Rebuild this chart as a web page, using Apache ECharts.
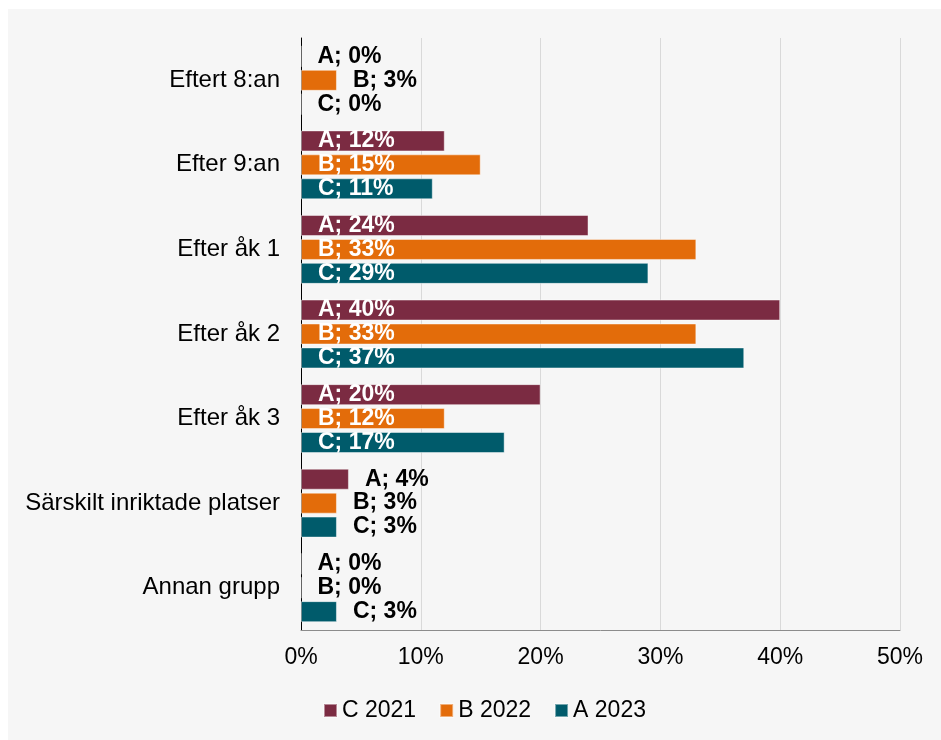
<!DOCTYPE html>
<html>
<head>
<meta charset="utf-8">
<script src="https://cdn.jsdelivr.net/npm/echarts@6/dist/echarts.min.js"></script>
<style>
  html, body { margin: 0; padding: 0; background: #ffffff; }
  #bg { position: absolute; left: 8px; top: 9px; width: 933px; height: 731px; background: #f6f6f6; }
  #chart { position: absolute; left: 0; top: 0; width: 941px; height: 740px; }
</style>
</head>
<body>
<div id="bg"></div>
<div id="chart"></div>
<script>
// ---- data ----
const categories = ['Eftert 8:an', 'Efter 9:an', 'Efter åk 1', 'Efter åk 2', 'Efter åk 3', 'Särskilt inriktade platser', 'Annan grupp'];
const legendNames = ['C 2021', 'B 2022', 'A 2023'];
const labelPrefixes = ['A', 'B', 'C'];
const valuesC2021 = [0, 12, 24, 40, 20, 4, 0];
const valuesB2022 = [3, 15, 33, 33, 12, 3, 0];
const valuesA2023 = [0, 11, 29, 37, 17, 3, 3];
const xTicks = [0, 10, 20, 30, 40, 50];

const seriesValues = [valuesC2021, valuesB2022, valuesA2023];
const colors = ['#7b2b42', '#e36c0a', '#005b6b'];
const FONT = '"Liberation Sans", Arial, sans-serif';

const chart = echarts.init(document.getElementById('chart'), null, { renderer: 'canvas' });

function makeSeries(i) {
  const prefix = labelPrefixes[i];
  return {
    name: legendNames[i],
    type: 'bar',
    barWidth: 21,
    barGap: '14%',
    itemStyle: { color: colors[i], borderColor: 'rgba(255,255,255,0.45)', borderWidth: 1 },
    data: seriesValues[i].map(v => ({
      value: v,
      label: v >= 10
        ? { show: true, position: 'insideLeft', distance: 17, color: '#ffffff' }
        : { show: true, position: 'right', distance: 16, color: '#000000' }
    })),
    label: {
      show: true,
      fontFamily: FONT,
      fontSize: 23,
      fontWeight: 'bold',
      formatter: p => prefix + '; ' + p.value + '%'
    }
  };
}

chart.setOption({
  backgroundColor: 'transparent',
  animation: false,
  textStyle: { fontFamily: FONT },
  grid: { left: 301, right: 41, top: 38, bottom: 110, containLabel: false },
  legend: {
    data: legendNames,
    left: 323,
    top: 699,
    padding: 0,
    itemWidth: 13,
    itemHeight: 13,
    itemGap: 23,
    icon: 'rect',
    textStyle: { fontFamily: FONT, fontSize: 23, color: '#000000', padding: [0, 0, 0, 0] }
  },
  xAxis: {
    type: 'value',
    min: xTicks[0],
    max: xTicks[xTicks.length - 1],
    interval: xTicks[1] - xTicks[0],
    axisLine: { show: true, lineStyle: { color: '#8c8c8c', width: 1 } },
    axisTick: { show: false },
    splitLine: { show: true, lineStyle: { color: '#d9d9d9', width: 1 } },
    axisLabel: { fontFamily: FONT, fontSize: 23, color: '#000000', margin: 16, formatter: '{value}%' }
  },
  yAxis: {
    type: 'category',
    inverse: true,
    data: categories,
    axisLine: { show: true, lineStyle: { color: '#000000', width: 1 } },
    axisTick: { show: false },
    axisLabel: { fontFamily: FONT, fontSize: 24, color: '#000000', margin: 21 }
  },
  series: [0, 1, 2].map(makeSeries)
});
</script>
</body>
</html>
